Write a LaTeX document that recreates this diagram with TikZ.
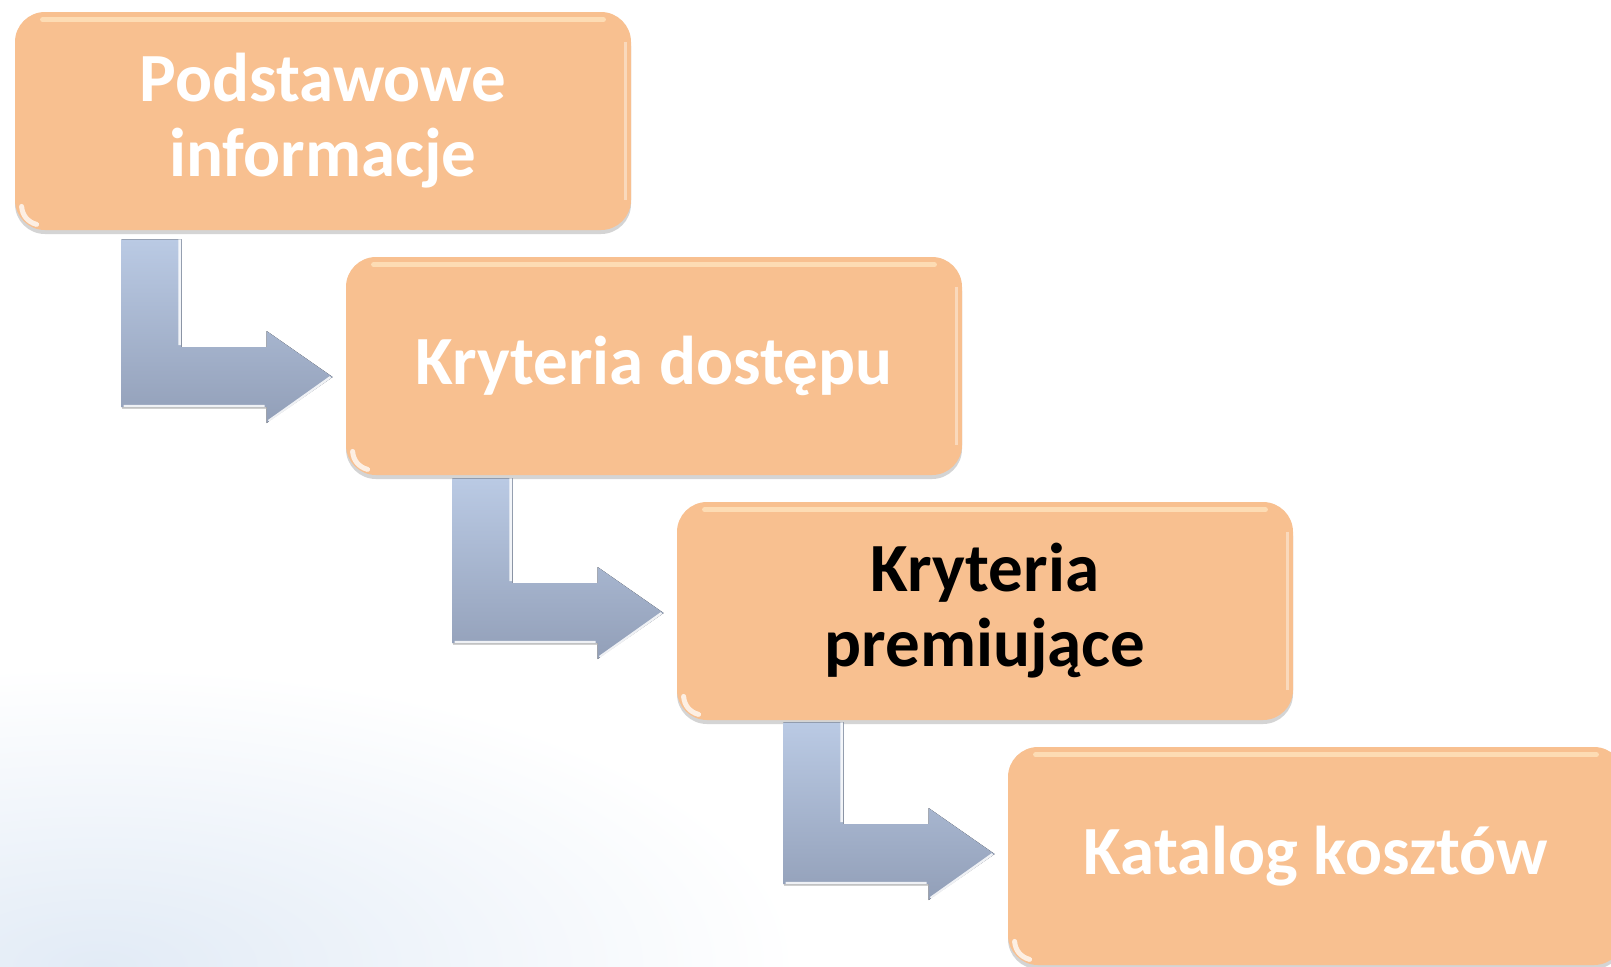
\documentclass[tikz,border=0pt]{standalone}
\usepackage{fontspec}
\setmainfont{Carlito}
\usetikzlibrary{calc,shadows}
\definecolor{boxfill}{RGB}{248,192,144}
\definecolor{boxhl}{RGB}{255,228,190}
\definecolor{arrtop}{RGB}{186,202,228}
\definecolor{arrbot}{RGB}{146,159,184}
\definecolor{bgblue}{RGB}{226,235,246}
\tikzset{
  stagebox/.style={draw=none, fill=boxfill, rounded corners=15pt,
    minimum width=308pt, minimum height=109pt, align=center,
    font=\bfseries\fontsize{34.5pt}{37.5pt}\selectfont, text=white,
    drop shadow={shadow xshift=0pt, shadow yshift=-2pt, opacity=0.3, fill=black!55}},
  arrowbody/.style={top color=arrtop, bottom color=arrbot, draw=none},
  bevel/.style={draw=white, line width=1.2pt, opacity=0.85},
  hl/.style={draw=boxhl, line width=2.5pt, line cap=round, opacity=0.8},
}
% elbow arrow: #1 from node, #2 to node, #3 top gap (px), #4 tip y offset (px)
\newcommand\elbowarrow[4]{%
  \coordinate (tl-#1) at ($(#1.south west)+(107,#3)$);
  \coordinate (tip-#1) at ($(#2.west)+(-13,#4)$);
  \fill[arrowbody] let \p1=(tl-#1), \p2=(tip-#1) in
    (\x1,\y1) -- (\x1+30pt,\y1) -- (\x1+30pt,\y2+15pt) -- (\x2-33pt,\y2+15pt)
    -- (\x2-33pt,\y2+23pt) -- (\x2,\y2) -- (\x2-33pt,\y2-23pt) -- (\x2-33pt,\y2-15pt)
    -- (\x1,\y2-15pt) -- cycle;
  \draw[bevel] let \p1=(tl-#1), \p2=(tip-#1) in
    (\x1+1pt,\y2-14.5pt) -- (\x2-34pt,\y2-14.5pt)
    (\x1+29pt,\y1) -- (\x1+29pt,\y2+16pt)
    (\x2-32pt,\y2-22pt) -- (\x2-1pt,\y2);
  \draw[draw=black!30, line width=0.8pt, opacity=0.6] let \p1=(tl-#1), \p2=(tip-#1) in
    (\x1,\y2-15.6pt) -- (\x2-33pt,\y2-15.6pt);
}
\newcommand\boxgloss[1]{%
  \draw[hl] ($(#1.north west)+(28,8)$) -- ($(#1.north east)+(-28,8)$);
  \draw[draw=white, line width=1.2pt, opacity=0.4] ($(#1.north east)+(-6,30)$) -- ($(#1.south east)+(-6,-30)$);
  \draw[draw=white, line width=2.5pt, opacity=0.75, line cap=round]
    ($(#1.south west)+(7,-24)$) to[bend right=35] ($(#1.south west)+(22,-6)$);
}
\begin{document}
\begin{tikzpicture}[x=0.5pt,y=-0.5pt]
  \useasboundingbox (0,0) rectangle (1611,966);
  \fill[white] (0,0) rectangle (1611,966);
  \begin{scope}
    \clip (0,0) rectangle (1611,966);
    \shade[inner color=bgblue, outer color=white] (-600,666) rectangle (800,1266);
  \end{scope}

  \node[stagebox] (b1) at (323,121) {Podstawowe\\informacje};
  \node[stagebox] (b2) at (654,366) {Kryteria dostępu};
  \node[stagebox, text=black] (b3) at (985,611) {Kryteria\\premiujące};
  \node[stagebox] (b4) at (1316,856) {Katalog kosztów};

  \elbowarrow{b1}{b2}{9}{11}
  \elbowarrow{b2}{b3}{3}{2}
  \elbowarrow{b3}{b4}{2}{-2}

  \boxgloss{b1}
  \boxgloss{b2}
  \boxgloss{b3}
  \boxgloss{b4}
\end{tikzpicture}
\end{document}
